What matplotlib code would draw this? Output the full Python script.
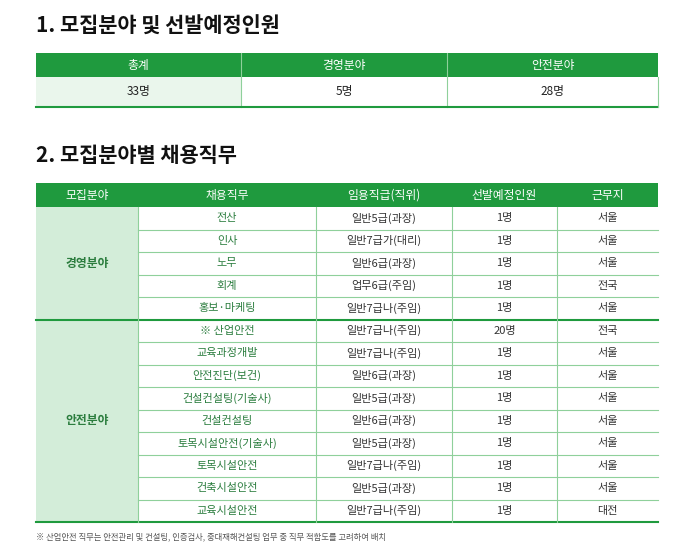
import matplotlib

matplotlib.use("Agg")
import matplotlib.pyplot as plt
from matplotlib.patches import Rectangle

FONT = ["Noto Sans CJK KR", "Noto Sans CJK JP", "Noto Sans CJK SC", "Noto Sans CJK TC", "DejaVu Sans"]
plt.rcParams["font.family"] = FONT
GREEN = "#1f9a3e"
LIGHT = "#d3edd9"
PALE = "#eaf6ec"
LINE = "#8fd09b"
TXT_G = "#2b7d3e"

title1 = "1. 모집분야 및 선발예정인원"
title2 = "2. 모집분야별 채용직무"
sum_headers = ["총계", "경영분야", "안전분야"]
sum_values = ["33명", "5명", "28명"]

headers = ["모집분야", "채용직무", "임용직급(직위)", "선발예정인원", "근무지"]
groups = [("경영분야", 5), ("안전분야", 9)]
jobs = ["전산", "인사", "노무", "회계", "홍보·마케팅",
        "※ 산업안전", "교육과정개발", "안전진단(보건)", "건설컨설팅(기술사)", "건설컨설팅",
        "토목시설안전(기술사)", "토목시설안전", "건축시설안전", "교육시설안전"]
grades = ["일반5급(과장)", "일반7급가(대리)", "일반6급(과장)", "업무6급(주임)", "일반7급나(주임)",
          "일반7급나(주임)", "일반7급나(주임)", "일반6급(과장)", "일반5급(과장)", "일반6급(과장)",
          "일반5급(과장)", "일반7급나(주임)", "일반5급(과장)", "일반7급나(주임)"]
counts = ["1명", "1명", "1명", "1명", "1명", "20명", "1명", "1명", "1명", "1명",
          "1명", "1명", "1명", "1명"]
places = ["서울", "서울", "서울", "전국", "서울", "전국", "서울", "서울", "서울", "서울",
          "서울", "서울", "서울", "대전"]
note = "※ 산업안전 직무는 안전관리 및 컨설팅, 인증검사, 중대재해컨설팅 업무 중 직무 적합도를 고려하여 배치"

fig = plt.figure(figsize=(6.98, 5.6), dpi=100)
ax = fig.add_axes([0, 0, 1, 1])
ax.set_xlim(0, 698)
ax.set_ylim(560, 0)
ax.axis("off")

X0, X1 = 36, 658
ax.text(X0, 26, title1, fontsize=15, fontweight="bold", va="center", color="#111")
ax.text(X0, 156, title2, fontsize=15, fontweight="bold", va="center", color="#111")

# table 1
cx = [X0, 241, 447, X1]
ax.add_patch(Rectangle((X0, 53), X1 - X0, 24, color=GREEN, lw=0))
ax.add_patch(Rectangle((X0, 77), cx[1] - X0, 30, color=PALE, lw=0))
for i in range(3):
    xm = (cx[i] + cx[i + 1]) / 2
    ax.text(xm, 65, sum_headers[i], fontsize=8.5, color="white", ha="center", va="center")
    ax.text(xm, 92, sum_values[i], fontsize=8.5, color="#222", ha="center", va="center")
for x in cx[1:-1]:
    ax.plot([x, x], [53, 107], color=LINE, lw=0.8)
ax.plot([X0, X1], [107, 107], color=GREEN, lw=1.5)
ax.plot([X1, X1], [77, 107], color=LINE, lw=0.8)

# table 2
cols = [X0, 138, 316, 452, 557, X1]
HY0, HY1 = 183, 207
rh = (522 - HY1) / len(jobs)
ax.add_patch(Rectangle((X0, HY0), X1 - X0, HY1 - HY0, color=GREEN, lw=0))
for i, h in enumerate(headers):
    ax.text((cols[i] + cols[i + 1]) / 2, (HY0 + HY1) / 2, h, fontsize=8.5, color="white",
            ha="center", va="center")
ax.add_patch(Rectangle((X0, HY1), cols[1] - X0, 522 - HY1, color=LIGHT, lw=0))

start = 0
for name, n in groups:
    y0 = HY1 + start * rh
    y1 = y0 + n * rh
    ax.text((X0 + cols[1]) / 2, (y0 + y1) / 2, name, fontsize=8.5, fontweight="bold",
            color=TXT_G, ha="center", va="center")
    ax.plot([X0, X1], [y1, y1], color=GREEN, lw=1.5)
    start += n

for r in range(len(jobs)):
    yc = HY1 + (r + 0.5) * rh
    vals = [jobs[r], grades[r], counts[r], places[r]]
    for c, v in enumerate(vals):
        color = TXT_G if c == 0 else "#333"
        ax.text((cols[c + 1] + cols[c + 2]) / 2, yc, v, fontsize=8, color=color,
                ha="center", va="center")
    if r not in (4, len(jobs) - 1):
        ax.plot([cols[1], X1], [HY1 + (r + 1) * rh] * 2, color=LINE, lw=0.8)
for x in cols[1:-1]:
    ax.plot([x, x], [HY1, 522], color=LINE, lw=0.8)

ax.text(X0, 537, note, fontsize=6, color="#555", va="center")

fig.savefig("out.png", dpi=100)
